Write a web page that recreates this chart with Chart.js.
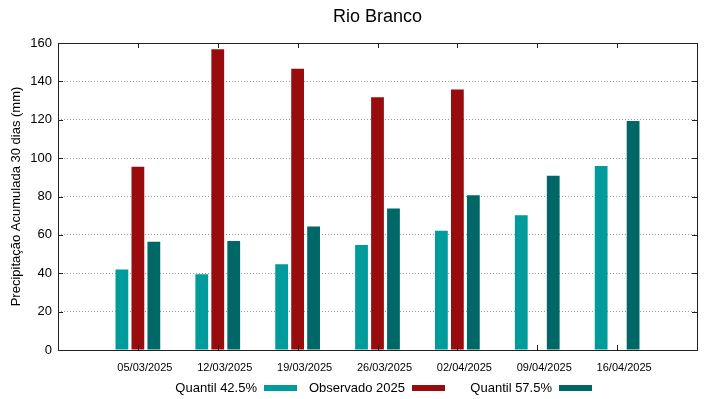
<!DOCTYPE html>
<html>
<head>
<meta charset="utf-8">
<script src="https://cdn.jsdelivr.net/npm/chart.js@4.4.1/dist/chart.umd.min.js"></script>
<style>
  html, body { margin: 0; padding: 0; background: #fff; }
  #wrap { width: 719px; height: 399px; position: relative; }
</style>
</head>
<body>
<div id="wrap"><canvas id="chart" width="719" height="399"></canvas></div>
<script>
// data
const datas = ['05/03/2025', '12/03/2025', '19/03/2025', '26/03/2025', '02/04/2025', '09/04/2025', '16/04/2025'];
const quantil425 = [42, 39.5, 44.7, 54.7, 62.2, 70.2, 95.9];
const observado2025 = [95.5, 156.8, 146.6, 131.7, 135.8, null, null];
const quantil575 = [56.4, 56.8, 64.3, 73.8, 80.6, 90.8, 119.3];
const yTicks = [0, 20, 40, 60, 80, 100, 120, 140, 160];

const FONT = "'Liberation Sans', Arial, sans-serif";
const corTeal = '#009b9b';
const corRed = '#990c0e';
const corDark = '#006767';

// empty slot on each side, like the gnuplot original
const labels = [''].concat(datas, ['']);
const pad = arr => [null].concat(arr, [null]);

// frame, inward ticks, title and legend in gnuplot style
const gnuplotStyle = {
  id: 'gnuplotStyle',
  afterDatasetsDraw(chart) {
    const ctx = chart.ctx;
    const a = chart.chartArea;
    const x = chart.scales.x, y = chart.scales.y;
    ctx.save();
    ctx.strokeStyle = '#222';
    ctx.lineWidth = 1;
    ctx.strokeRect(Math.round(a.left) + 0.5, Math.round(a.top) + 0.5,
      Math.round(a.right - a.left), Math.round(a.bottom - a.top));
    ctx.beginPath();
    for (let i = 1; i <= datas.length; i++) {
      const px = Math.round(x.getPixelForValue(i)) + 0.5;
      ctx.moveTo(px, a.top); ctx.lineTo(px, a.top + 5);
      ctx.moveTo(px, a.bottom); ctx.lineTo(px, a.bottom - 5);
    }
    yTicks.forEach(v => {
      const py = Math.round(y.getPixelForValue(v)) + 0.5;
      ctx.moveTo(a.left, py); ctx.lineTo(a.left + 5, py);
      ctx.moveTo(a.right, py); ctx.lineTo(a.right - 5, py);
    });
    ctx.stroke();

    // title
    ctx.fillStyle = '#000';
    ctx.font = '18px ' + FONT;
    ctx.textAlign = 'center';
    ctx.textBaseline = 'middle';
    ctx.fillText('Rio Branco', (a.left + a.right) / 2, 17);

    // legend: text then swatch
    ctx.font = '13px ' + FONT;
    ctx.textAlign = 'right';
    const items = [
      { t: 'Quantil 42.5%', c: corTeal, sx: 264 },
      { t: 'Observado 2025', c: corRed, sx: 412 },
      { t: 'Quantil 57.5%', c: corDark, sx: 559 }
    ];
    const ly = 388;
    items.forEach(it => {
      ctx.fillStyle = '#000';
      ctx.fillText(it.t, it.sx - 7, ly);
      ctx.fillStyle = it.c;
      ctx.fillRect(it.sx, ly - 3, 33, 6);
    });
    ctx.restore();
  }
};

const ctx = document.getElementById('chart').getContext('2d');
new Chart(ctx, {
  type: 'bar',
  data: {
    labels: labels,
    datasets: [
      { label: 'Quantil 42.5%', data: pad(quantil425), backgroundColor: corTeal },
      { label: 'Observado 2025', data: pad(observado2025), backgroundColor: corRed },
      { label: 'Quantil 57.5%', data: pad(quantil575), backgroundColor: corDark }
    ]
  },
  options: {
    responsive: false,
    animation: false,
    devicePixelRatio: 1,
    layout: { padding: { top: 43, right: 22, bottom: 0, left: 0 } },
    datasets: { bar: { categoryPercentage: 0.6, barPercentage: 0.8 } },
    plugins: {
      legend: { display: false },
      tooltip: { enabled: false },
      title: { display: false }
    },
    scales: {
      x: {
        offset: false,
        grid: { display: false, drawTicks: false },
        border: { display: false },
        ticks: { color: '#000', font: { family: FONT, size: 11 }, padding: 11, labelOffset: 7, maxRotation: 0, autoSkip: false },
        afterFit(scale) { scale.height = 49; }
      },
      y: {
        min: 0,
        max: 160,
        afterBuildTicks(scale) { scale.ticks = yTicks.map(v => ({ value: v })); },
        grid: {
          color: ctx2 => (ctx2.tick && (ctx2.tick.value === 0 || ctx2.tick.value === 160)) ? 'rgba(0,0,0,0)' : '#9a9a9a',
          lineWidth: 1,
          drawTicks: false
        },
        border: { display: false, dash: [1, 2] },
        ticks: { color: '#000', font: { family: FONT, size: 13 }, padding: 6 },
        title: {
          display: true,
          text: 'Precipitação Acumulada 30 dias (mm)',
          color: '#000',
          font: { family: FONT, size: 13 },
          padding: { top: 9, bottom: 4 }
        },
        afterFit(scale) { scale.width = 58; }
      }
    }
  },
  plugins: [gnuplotStyle]
});
</script>
</body>
</html>
